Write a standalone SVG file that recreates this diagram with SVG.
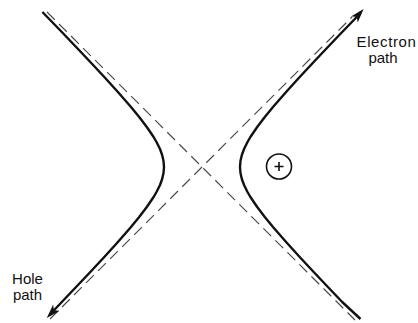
<svg xmlns="http://www.w3.org/2000/svg" width="418" height="323" viewBox="0 0 418 323">
<style>
.path{fill:none;stroke:#111;stroke-width:2.4;stroke-linejoin:round;stroke-linecap:butt}
.asym{fill:none;stroke:#4a4a4a;stroke-width:1.2;stroke-dasharray:11 6}
.lbl{font-family:"Liberation Sans",Arial,sans-serif;font-size:15px;fill:#111}
.ion{fill:none;stroke:#111;stroke-width:1.6}
</style>
<defs>
<marker id="arr" viewBox="0 0 14 9" refX="10" refY="4.5" markerWidth="14" markerHeight="9" markerUnits="userSpaceOnUse" orient="auto">
<path d="M0,0 L14,4.5 L0,9 L3.5,4.5 z" fill="#111"/>
</marker>
</defs>
<rect width="418" height="323" fill="#fff"/>
<g id="connectors">
<line class="asym" x1="47" y1="12" x2="355" y2="320"/>
<line class="asym" x1="50" y1="319" x2="352" y2="17"/>
<polyline id="hole-path" class="path" marker-end="url(#arr)" points="42.4,12 61.8,32 76.1,47 90.3,62 104.3,77 117.9,92 131,107 139.2,117 146.8,127 153.6,137 156.5,142 160,149 162.15,155 163.5,161 164,167 163.5,173 162.15,179 160,185 156.5,192 153.6,197 146.8,207 139.2,217 131,227 117.9,242 104.3,257 90.3,272 76.1,287 61.8,302 49.5,315"/>
<polyline id="electron-path" class="path" marker-end="url(#arr)" points="360.5,319 342.2,302 327.9,287 313.7,272 299.7,257 286.1,242 273,227 264.8,217 257.2,207 250.4,197 247.5,192 244.05,185 241.85,179 240.47,173 240,167 240.47,161 241.85,155 244.05,149 247.5,142 250.4,137 257.2,127 264.8,117 273,107 286.1,92 299.7,77 313.7,62 327.9,47 342.2,32 354.8,19 361,12"/>
</g>
<g id="ion">
<circle class="ion" cx="279" cy="166.5" r="12.5"/>
<path class="ion" stroke-width="1.2" d="M274.5,166.5 H283.5 M279,162 V171"/>
</g>
<g id="electron-label">
<text class="lbl" x="386.5" y="47" text-anchor="middle" letter-spacing="0.6">Electron</text>
<text class="lbl" x="383" y="63" text-anchor="middle">path</text>
</g>
<g id="hole-label">
<text class="lbl" x="27.5" y="284" text-anchor="middle">Hole</text>
<text class="lbl" x="27.5" y="300" text-anchor="middle">path</text>
</g>
</svg>
